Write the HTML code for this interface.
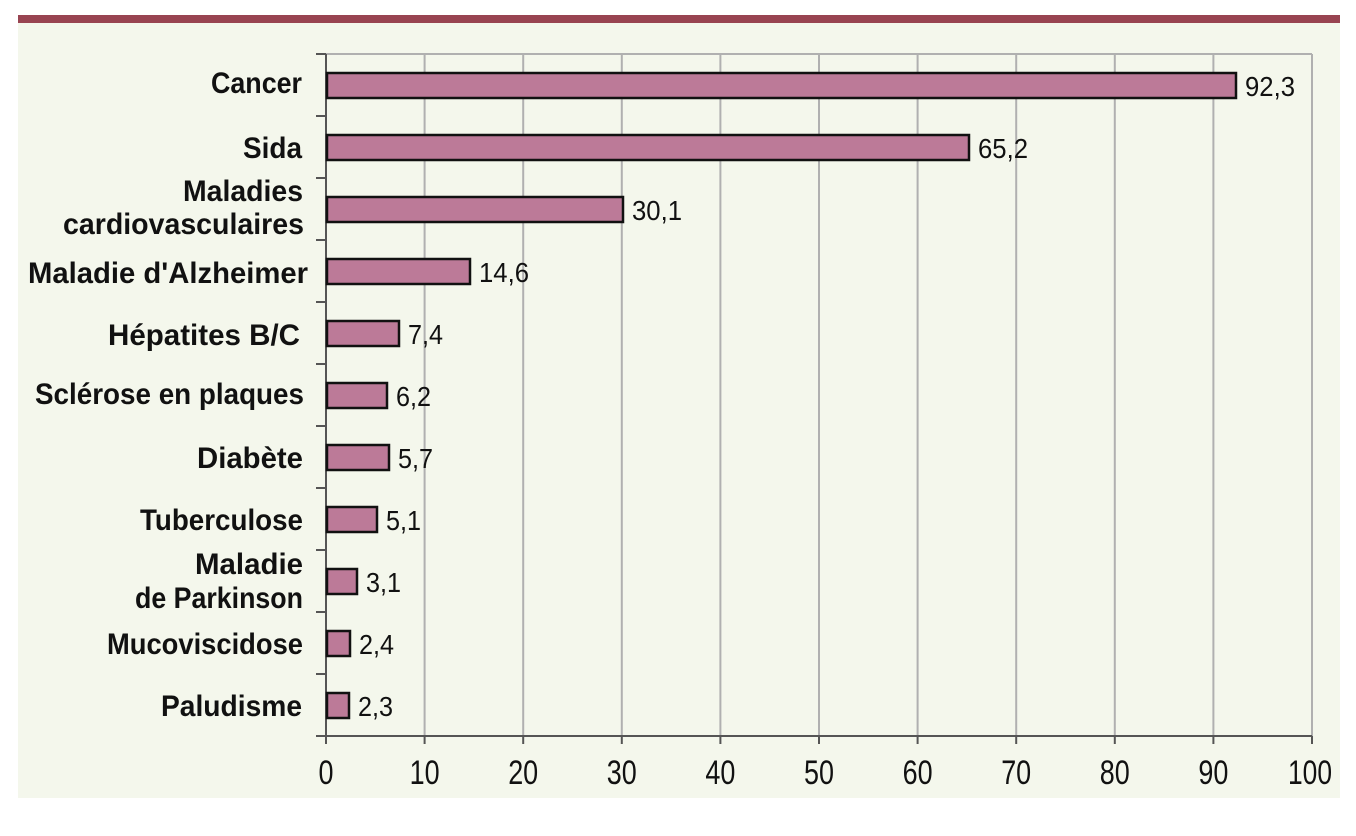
<!DOCTYPE html>
<html><head><meta charset="utf-8"><style>
body{margin:0;background:#fff;}
svg{display:block}
.lab{font-family:"Liberation Sans",sans-serif;font-weight:bold;font-size:30px;fill:#111;text-anchor:end}
.val{font-family:"Liberation Sans",sans-serif;font-size:28px;fill:#111}
.tk{font-family:"Liberation Sans",sans-serif;font-size:34px;fill:#111;text-anchor:middle}
</style></head><body>
<svg width="1356" height="836" xmlns="http://www.w3.org/2000/svg">
<rect x="18" y="15" width="1322" height="8" fill="#984451"/>
<rect x="18" y="23" width="1322" height="775" fill="#f4f7ec"/>
<g stroke="#b0b0b0" stroke-width="2">
<line x1="326" y1="54" x2="1312" y2="54"/>
<line x1="424.6" y1="54" x2="424.6" y2="736"/><line x1="523.2" y1="54" x2="523.2" y2="736"/>
<line x1="621.8" y1="54" x2="621.8" y2="736"/><line x1="720.4" y1="54" x2="720.4" y2="736"/>
<line x1="819" y1="54" x2="819" y2="736"/><line x1="917.6" y1="54" x2="917.6" y2="736"/>
<line x1="1016.2" y1="54" x2="1016.2" y2="736"/><line x1="1114.8" y1="54" x2="1114.8" y2="736"/>
<line x1="1213.4" y1="54" x2="1213.4" y2="736"/><line x1="1312" y1="54" x2="1312" y2="736"/>
</g>
<g stroke="#555" stroke-width="2">
<line x1="326" y1="54" x2="326" y2="744"/>
<line x1="316" y1="736" x2="1312" y2="736"/>
<line x1="316" y1="54" x2="326" y2="54"/><line x1="316" y1="116" x2="326" y2="116"/><line x1="316" y1="178" x2="326" y2="178"/><line x1="316" y1="240" x2="326" y2="240"/><line x1="316" y1="302" x2="326" y2="302"/><line x1="316" y1="364" x2="326" y2="364"/><line x1="316" y1="426" x2="326" y2="426"/><line x1="316" y1="488" x2="326" y2="488"/><line x1="316" y1="550" x2="326" y2="550"/><line x1="316" y1="612" x2="326" y2="612"/><line x1="316" y1="674" x2="326" y2="674"/>
<line x1="424.6" y1="736" x2="424.6" y2="744"/><line x1="523.2" y1="736" x2="523.2" y2="744"/><line x1="621.8" y1="736" x2="621.8" y2="744"/><line x1="720.4" y1="736" x2="720.4" y2="744"/><line x1="819" y1="736" x2="819" y2="744"/><line x1="917.6" y1="736" x2="917.6" y2="744"/><line x1="1016.2" y1="736" x2="1016.2" y2="744"/><line x1="1114.8" y1="736" x2="1114.8" y2="744"/><line x1="1213.4" y1="736" x2="1213.4" y2="744"/><line x1="1312" y1="736" x2="1312" y2="744"/>
</g>
<g fill="#bc7a98" stroke="#111" stroke-width="2.5">
<rect x="327" y="73" width="909" height="25"/>
<rect x="327" y="135" width="642" height="25"/>
<rect x="327" y="197" width="296" height="25"/>
<rect x="327" y="259" width="143" height="25"/>
<rect x="327" y="321" width="72" height="25"/>
<rect x="327" y="383" width="60" height="25"/>
<rect x="327" y="445" width="62" height="25"/>
<rect x="327" y="507" width="50" height="25"/>
<rect x="327" y="569" width="30" height="25"/>
<rect x="327" y="631" width="23" height="25"/>
<rect x="327" y="693" width="22" height="25"/>
</g>
<g class="val">
<text x="1245" y="96" textLength="50" lengthAdjust="spacingAndGlyphs">92,3</text>
<text x="978" y="158" textLength="50" lengthAdjust="spacingAndGlyphs">65,2</text>
<text x="632" y="220" textLength="50" lengthAdjust="spacingAndGlyphs">30,1</text>
<text x="479" y="282" textLength="50" lengthAdjust="spacingAndGlyphs">14,6</text>
<text x="408" y="344" textLength="35" lengthAdjust="spacingAndGlyphs">7,4</text>
<text x="396" y="406" textLength="35" lengthAdjust="spacingAndGlyphs">6,2</text>
<text x="398" y="468" textLength="35" lengthAdjust="spacingAndGlyphs">5,7</text>
<text x="386" y="530" textLength="35" lengthAdjust="spacingAndGlyphs">5,1</text>
<text x="366" y="592" textLength="35" lengthAdjust="spacingAndGlyphs">3,1</text>
<text x="359" y="654" textLength="35" lengthAdjust="spacingAndGlyphs">2,4</text>
<text x="358" y="716" textLength="35" lengthAdjust="spacingAndGlyphs">2,3</text>
</g>
<g class="lab">
<text x="302" y="93" textLength="91" lengthAdjust="spacingAndGlyphs">Cancer</text>
<text x="302" y="158" textLength="59" lengthAdjust="spacingAndGlyphs">Sida</text>
<text x="303" y="201" textLength="120" lengthAdjust="spacingAndGlyphs">Maladies</text>
<text x="304" y="234" textLength="241" lengthAdjust="spacingAndGlyphs">cardiovasculaires</text>
<text x="308" y="283" textLength="280" lengthAdjust="spacingAndGlyphs">Maladie d'Alzheimer</text>
<text x="300" y="345" textLength="192" lengthAdjust="spacingAndGlyphs">Hépatites B/C</text>
<text x="304" y="404" textLength="269" lengthAdjust="spacingAndGlyphs">Sclérose en plaques</text>
<text x="303" y="468" textLength="106" lengthAdjust="spacingAndGlyphs">Diabète</text>
<text x="303" y="530" textLength="163" lengthAdjust="spacingAndGlyphs">Tuberculose</text>
<text x="303" y="574" textLength="108" lengthAdjust="spacingAndGlyphs">Maladie</text>
<text x="303" y="608" textLength="168" lengthAdjust="spacingAndGlyphs">de Parkinson</text>
<text x="303" y="654" textLength="196" lengthAdjust="spacingAndGlyphs">Mucoviscidose</text>
<text x="302" y="716" textLength="141" lengthAdjust="spacingAndGlyphs">Paludisme</text>
</g>
<g class="tk">
<text x="326" y="784" textLength="15" lengthAdjust="spacingAndGlyphs">0</text>
<text x="424.6" y="784" textLength="30" lengthAdjust="spacingAndGlyphs">10</text>
<text x="523.2" y="784" textLength="30" lengthAdjust="spacingAndGlyphs">20</text>
<text x="621.8" y="784" textLength="30" lengthAdjust="spacingAndGlyphs">30</text>
<text x="720.4" y="784" textLength="30" lengthAdjust="spacingAndGlyphs">40</text>
<text x="819" y="784" textLength="30" lengthAdjust="spacingAndGlyphs">50</text>
<text x="917.6" y="784" textLength="30" lengthAdjust="spacingAndGlyphs">60</text>
<text x="1016.2" y="784" textLength="30" lengthAdjust="spacingAndGlyphs">70</text>
<text x="1114.8" y="784" textLength="30" lengthAdjust="spacingAndGlyphs">80</text>
<text x="1213.4" y="784" textLength="30" lengthAdjust="spacingAndGlyphs">90</text>
<text x="1310" y="784" textLength="44" lengthAdjust="spacingAndGlyphs">100</text>
</g>
</svg>
</body></html>
